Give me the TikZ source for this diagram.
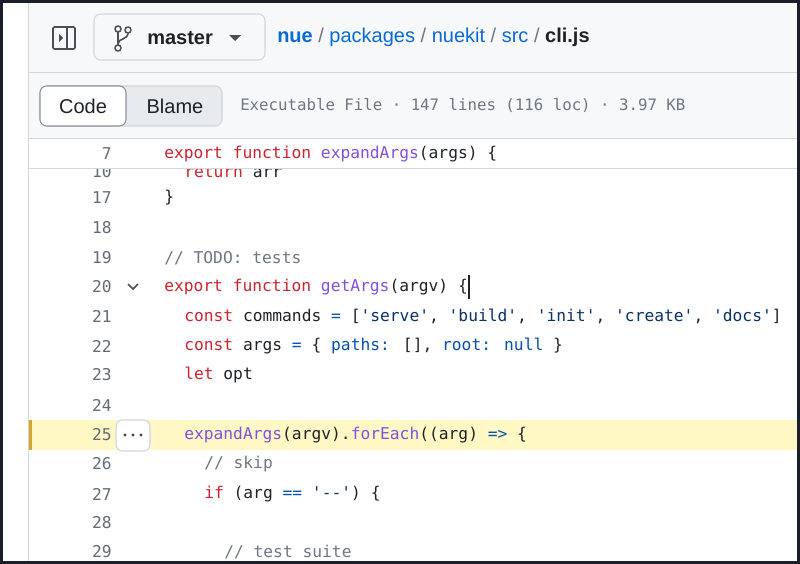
\documentclass[tikz,border=0pt]{standalone}
\usepackage{fontspec}
\setmainfont{Liberation Sans}
\newfontfamily\codefont{DejaVu Sans Mono}
\usetikzlibrary{positioning}
\definecolor{FrameDark}{RGB}{27,31,42}
\definecolor{PanelGrey}{RGB}{246,248,250}
\definecolor{BorderGrey}{RGB}{208,215,222}
\definecolor{KwRed}{RGB}{207,34,46}
\definecolor{FnPurple}{RGB}{130,80,223}
\definecolor{ConstBlue}{RGB}{5,80,174}
\definecolor{StrBlue}{RGB}{10,48,105}
\definecolor{CommentGrey}{RGB}{110,119,129}
\definecolor{TextDark}{RGB}{31,35,40}
\definecolor{LinkBlue}{RGB}{9,105,218}
\definecolor{HiYellow}{RGB}{255,248,197}
\definecolor{HiBar}{RGB}{212,167,44}
\newcommand{\kw}[1]{\textcolor{KwRed}{#1}}
\newcommand{\fn}[1]{\textcolor{FnPurple}{#1}}
\newcommand{\cst}[1]{\textcolor{ConstBlue}{#1}}
\newcommand{\str}[1]{\textcolor{StrBlue}{#1}}
\newcommand{\cmt}[1]{\textcolor{CommentGrey}{#1}}
\tikzset{
  code/.style={anchor=west, inner sep=0pt, text=TextDark, font=\codefont\fontsize{12.2}{14}\selectfont},
  lineno/.style={anchor=east, inner sep=0pt, text=CommentGrey!90!black, font=\codefont\fontsize{12.2}{14}\selectfont},
  ui/.style={anchor=west, inner sep=0pt, text=TextDark, font=\fontsize{15}{18}\selectfont},
  btn/.style={draw=BorderGrey, rounded corners=5pt, line width=0.8pt}
}
\begin{document}
\begin{tikzpicture}[x=0.75pt,y=-0.75pt]
\useasboundingbox (0,0) rectangle (800,564);
% frame
\fill[FrameDark] (0,0) rectangle (800,564);
\fill[white] (3,3) rectangle (797,561);
\fill[PanelGrey] (28,3) rectangle (797,138);
\draw[BorderGrey] (28,3) -- (28,561);
\draw[BorderGrey] (28,72) -- (797,72);
\draw[BorderGrey] (28,138) -- (797,138);

% top bar
\draw[TextDark!80, line width=1.2pt, rounded corners=1pt] (53,27) rectangle (75,49);
\draw[TextDark!80, line width=1.2pt] (67,27) -- (67,49);
\fill[TextDark!80] (59,34) -- (63,38) -- (59,42) -- cycle;
\draw[btn, fill=PanelGrey] (94,14) rectangle (265,60);
\draw[TextDark!80, line width=1.2pt] (118,31) -- (118,48) (118,44) .. controls (118,38) and (128,40) .. (128,33);
\draw[TextDark!80, line width=1.1pt, fill=PanelGrey] (118,29) circle (3) (128,30) circle (3) (118,48) circle (3);
\node (branch) [ui, font=\bfseries\fontsize{15}{18}\selectfont] at (147,38) {master};
\fill[TextDark!80] (229,35) -- (241,35) -- (235,41) -- cycle;
\node (crumb) [ui, text=LinkBlue] at (277,37) {\textbf{nue} \textcolor{CommentGrey}{/} packages \textcolor{CommentGrey}{/} nuekit \textcolor{CommentGrey}{/} src \textcolor{CommentGrey}{/} \textcolor{TextDark}{\textbf{cli.js}}};

% code / blame
\draw[btn, fill=BorderGrey!50] (40,86) rectangle (222,126);
\draw[btn, fill=white, draw=CommentGrey!80] (40,86) rectangle (126,126);
\node (codetab) [ui, anchor=center] at (83,106) {Code};
\node (blametab) [ui, anchor=center] at (175,106) {Blame};
\node (info) [code, text=CommentGrey, font=\codefont\fontsize{11.8}{14}\selectfont] at (240,106) {Executable File · 147 lines (116 loc) · 3.97 KB};

% highlighted line
\fill[HiYellow] (29,420) rectangle (797,450);
\fill[HiBar] (29,420) rectangle (32,450);
\draw[btn, fill=white] (116,420) rectangle (150,451);
\foreach \dx in {125,133,141} \fill[TextDark!85] (\dx,435) circle (1.7);

% partially hidden line 10
\begin{scope}
\clip (28,168) rectangle (797,561);
\node (n10) [lineno] at (112,172) {10};
\node (l10) [code] at (184,172) {\kw{return} arr};
\end{scope}
% sticky line 7
\fill[white] (29,139) rectangle (797,168);
\draw[BorderGrey] (28,168) -- (797,168);
\node (n7) [lineno] at (112,154) {7};
\node (l7) [code] at (164,154) {\kw{export function} \fn{expandArgs}(args) \{};

% code lines
\node (n17) [lineno] at (112,198) {17};
\node (l17) [code] at (164,198) {\}};
\node (n18) [lineno] at (112,228) {18};
\node (n19) [lineno] at (112,258) {19};
\node (l19) [code] at (164,258) {\cmt{// TODO: tests}};
\node (n20) [lineno] at (112,287) {20};
\draw[TextDark!80, line width=1.1pt] (128,284) -- (133,289) -- (138,284);
\node (l20) [code] at (164,287) {\kw{export function} \fn{getArgs}(argv) \{};
\draw[TextDark, line width=1pt] (469,275) -- (469,299);
\node (n21) [lineno] at (112,316) {21};
\node (l21) [code] at (184,316) {\kw{const} commands \cst{=} [\str{'serve'}, \str{'build'}, \str{'init'}, \str{'create'}, \str{'docs'}]};
\node (n22) [lineno] at (112,346) {22};
\node (l22) [code] at (184,346) {\kw{const} args \cst{=} \{ \cst{paths:} [], \cst{root:} \cst{null} \}};
\node (n23) [lineno] at (112,375) {23};
\node (l23) [code] at (184,375) {\kw{let} opt};
\node (n24) [lineno] at (112,405) {24};
\node (n25) [lineno] at (112,435) {25};
\node (l25) [code] at (184,435) {\fn{expandArgs}(argv).\fn{forEach}((arg) \cst{=>} \{};
\node (n26) [lineno] at (112,464) {26};
\node (l26) [code] at (204,464) {\cmt{// skip}};
\node (n27) [lineno] at (112,494) {27};
\node (l27) [code] at (204,494) {\kw{if} (arg \cst{==} \str{'--'}) \{};
\node (n28) [lineno] at (112,523) {28};
\node (n29) [lineno] at (112,552) {29};
\node (l29) [code] at (224,552) {\cmt{// test suite}};
\end{tikzpicture}
\end{document}
